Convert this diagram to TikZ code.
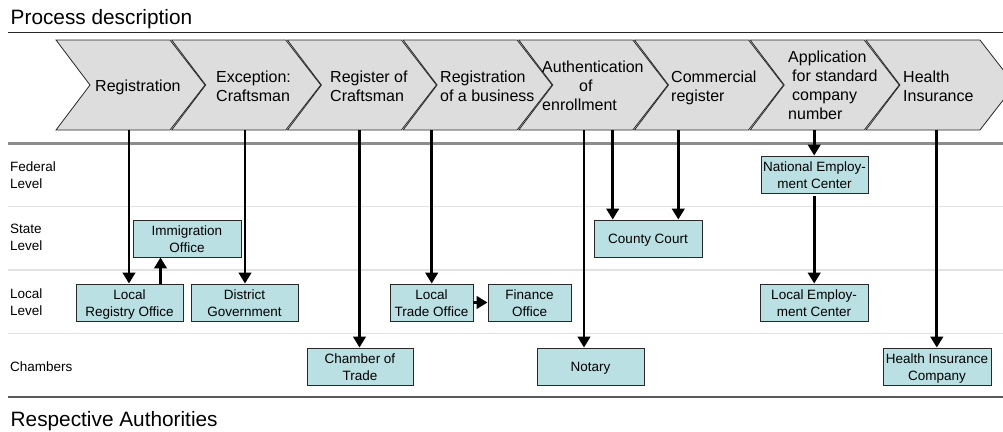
\documentclass[tikz,border=0pt]{standalone}
\usepackage{fontspec}
\setmainfont{Liberation Sans}
\usetikzlibrary{arrows.meta}
\definecolor{chevfill}{RGB}{221,221,221}
\definecolor{boxfill}{RGB}{187,224,227}
\definecolor{edge}{RGB}{40,40,40}
\definecolor{rulegray}{RGB}{140,140,140}
\definecolor{lanegray}{RGB}{226,226,226}
\definecolor{basegray}{RGB}{90,90,90}
% line strut for the authority boxes (13.7pt above, 3pt below the baseline)
\newcommand\bstr{\rule[-3pt]{0pt}{16.7pt}}
\begin{document}
\begin{tikzpicture}[x=1pt,y=-1pt,
  chev/.style={fill=chevfill,draw=edge,line width=0.8pt,line join=miter},
  chevtext/.style={font=\fontsize{16}{19}\selectfont,inner sep=0pt,align=left,anchor=west},
  authority/.style={draw=edge,fill=boxfill,line width=0.9pt,
    font=\fontsize{13.5}{16.7}\selectfont,align=center,inner sep=0pt,minimum height=37pt},
  lanelabel/.style={font=\fontsize{13.5}{16.7}\selectfont,align=left,inner sep=0pt,anchor=west},
  heading/.style={font=\fontsize{20.8}{25}\selectfont,inner sep=0pt,anchor=base west},
  flow/.style={line width=2.7pt,-{Triangle[width=12.5pt,length=11pt]}}
]
\useasboundingbox (0,0) rectangle (1003,431);
\clip (0,0) rectangle (1003,431);

% headings and horizontal rules
\node[heading] (head) at (10.5,24.5) {Process description};
\node[heading] (foot) at (10.5,426) {Respective Authorities};
\draw[edge,line width=1pt] (8,32.5) -- (1003,32.5);
\draw[rulegray,line width=3pt] (8,143) -- (1003,143);
\foreach \y in {206.5,270,333.5}
  \draw[lanegray,line width=1.2pt] (8,\y) -- (1003,\y);
\draw[basegray,line width=1.5pt] (8,397) -- (1003,397);

% process chevrons (x-value = position of the tip)
\foreach \T in {205,320.7,436.4,552.1,667.8,783.5,899.2,1014.9}
  \path[chev] (\T-149,40) -- (\T-35,40) -- (\T,85) -- (\T-35,130)
              -- (\T-149,130) -- (\T-115,85) -- cycle;

\node[chevtext] (p1) at (95,87.7) {\strut Registration\strut};
\node[chevtext] (p2) at (216,87.7) {\strut Exception:\\\strut Craftsman};
\node[chevtext] (p3) at (330,87.7) {\strut Register of\\\strut Craftsman};
\node[chevtext] (p4) at (440,87.7) {\strut Registration\\\strut of a business};
\node[chevtext] (p5) at (542,87.2) {\strut Authentication\\\strut\hspace*{37pt}of\\\strut enrollment};
\node[chevtext] (p6) at (671,87.7) {\strut Commercial\\\strut register};
\node[chevtext] (p7) at (788,86.7) {\strut Application\\\strut\hspace*{4pt}for standard\\\strut\hspace*{4pt}company\\\strut number};
\node[chevtext] (p8) at (903,87.7) {\strut Health\\\strut Insurance};

% lane labels
\node[lanelabel] (fed) at (10,177) {\strut Federal\\\strut Level};
\node[lanelabel] (sta) at (10,239) {\strut State\\\strut Level};
\node[lanelabel] (loc) at (10,304) {\strut Local\\\strut Level};
\node[lanelabel] (cha) at (10,368.4) {\strut Chambers\strut};

% authorities
\node[authority,minimum width=108pt] (imm)  at (187,238.5)   {\bstr Immigration\\\bstr Office};
\node[authority,minimum width=107pt] (lreg) at (129.5,302.5) {\bstr Local\\\bstr Registry Office};
\node[authority,minimum width=107pt] (dgov) at (244.5,302.5) {\bstr District\\\bstr Government};
\node[authority,minimum width=106pt] (cot)  at (360,366.5)   {\bstr Chamber of\\\bstr Trade};
\node[authority,minimum width=83pt]  (lto)  at (431.5,302.5) {\bstr Local\\\bstr Trade Office};
\node[authority,minimum width=83pt]  (fin)  at (529.5,302.5) {\bstr Finance\\\bstr Office};
\node[authority,minimum width=107pt] (nota) at (590.5,366.5) {\bstr Notary\bstr};
\node[authority,minimum width=108pt] (cc)   at (648,238.5)   {\bstr County Court\bstr};
\node[authority,minimum width=107pt] (nec)  at (814.5,174.5) {\bstr National Employ-\\\bstr ment Center};
\node[authority,minimum width=108pt] (lec)  at (814,302.5)   {\bstr Local Employ-\\\bstr ment Center};
\node[authority,minimum width=108pt] (hic)  at (937,366.5)   {\bstr Health Insurance\\\bstr Company};

% connector start points on the lower edge of the chevrons
\coordinate (s1)  at (129,130);
\coordinate (s2)  at (245,130);
\coordinate (s3)  at (359.5,130);
\coordinate (s4)  at (431.7,130);
\coordinate (s5a) at (584,130);
\coordinate (s5b) at (612.7,130);
\coordinate (s6)  at (678.3,130);
\coordinate (s7)  at (814.2,130);
\coordinate (s8)  at (936.8,130);

% connectors
\draw[flow] (s1)  -- (s1  |- lreg.north);
\draw[flow] ([xshift=31pt]lreg.north) -- ([xshift=31pt]lreg.north |- imm.south);
\draw[flow] (s2)  -- (s2  |- dgov.north);
\draw[flow] (s3)  -- (s3  |- cot.north);
\draw[flow] (s4)  -- (s4  |- lto.north);
\draw[flow] (lto.east) -- (fin.west);
\draw[flow] (s5a) -- (s5a |- nota.north);
\draw[flow] (s5b) -- (s5b |- cc.north);
\draw[flow] (s6)  -- (s6  |- cc.north);
\draw[flow] (s7)  -- (s7  |- nec.north);
\draw[flow,shorten <=3pt] (s7 |- nec.south) -- (s7 |- lec.north);
\draw[flow] (s8)  -- (s8  |- hic.north);
\end{tikzpicture}
\end{document}
